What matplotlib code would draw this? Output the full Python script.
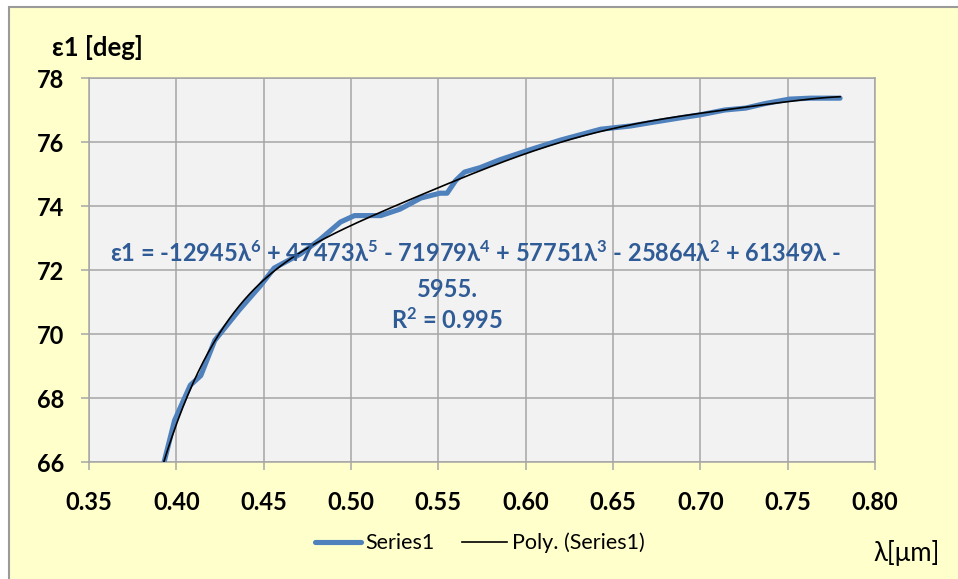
import matplotlib
matplotlib.use("Agg")
import matplotlib.pyplot as plt
from matplotlib.patches import Rectangle
import numpy as np

wavelength = [0.389, 0.393, 0.399, 0.408, 0.414, 0.422, 0.436, 0.448, 0.456, 0.471,
              0.482, 0.494, 0.502, 0.517, 0.528, 0.540, 0.551, 0.555, 0.560, 0.565,
              0.574, 0.585, 0.602, 0.620, 0.643, 0.660, 0.671, 0.688, 0.700, 0.714,
              0.726, 0.737, 0.751, 0.763, 0.780]
eps1 = [65.2, 66.0, 67.3, 68.4, 68.7, 69.8, 70.75, 71.5, 72.06, 72.5,
        72.94, 73.5, 73.7, 73.7, 73.9, 74.25, 74.4, 74.4, 74.8, 75.06,
        75.2, 75.44, 75.75, 76.06, 76.4, 76.5, 76.6, 76.75, 76.85, 77.0,
        77.06, 77.2, 77.34, 77.37, 77.37]

x_ticks = [0.35, 0.40, 0.45, 0.50, 0.55, 0.60, 0.65, 0.70, 0.75, 0.80]
y_ticks = [66, 68, 70, 72, 74, 76, 78]

eq_line1 = (r"ε1 = -12945λ$^{6}$ + 47473λ$^{5}$ - 71979λ$^{4}$ + 57751λ$^{3}$"
            r" - 25864λ$^{2}$ + 61349λ -")
eq_line2 = "5955."
eq_line3 = r"R$^{2}$ = 0.995"

FONT = ["Lato", "DejaVu Sans"]
BG = "#FFFFCC"
GRID = "#A6A6A6"
BLUE = "#4F81BD"
TXT_BLUE = "#2F5B96"

plt.rcParams["font.family"] = FONT
plt.rcParams["font.weight"] = "bold"
plt.rcParams["mathtext.fontset"] = "custom"
plt.rcParams["mathtext.rm"] = "Lato:bold"
plt.rcParams["mathtext.it"] = "Lato:bold"
plt.rcParams["mathtext.bf"] = "Lato:bold"

fig = plt.figure(figsize=(9.58, 5.79), dpi=100)
fig.patch.set_facecolor("white")
W, H = 958.0, 579.0
fig.patches.append(Rectangle((9 / W, -0.1), 1.2, 1 - 7 / H + 0.1, transform=fig.transFigure,
                             facecolor=BG, edgecolor="#9A9A9A", linewidth=1.5, zorder=-10))

ax = fig.add_axes([89 / W, 1 - 462 / H, (875 - 89) / W, (462 - 78) / H])
ax.set_facecolor("#F2F2F2")

# polynomial trendline (order 6) fitted to the series
fit = np.polynomial.Polynomial.fit(wavelength, eps1, 6)
xs = np.linspace(wavelength[0], wavelength[-1], 400)

ax.plot(wavelength, eps1, color=BLUE, lw=3.7, solid_capstyle="round",
        solid_joinstyle="round", label="Series1", zorder=3)
ax.plot(xs, fit(xs), color="black", lw=1.2, label="Poly. (Series1)", zorder=4)

ax.set_xlim(0.35, 0.80)
ax.set_ylim(66, 78)
ax.set_xticks(x_ticks)
ax.set_xticklabels([f"{v:.2f}" for v in x_ticks])
ax.set_yticks(y_ticks)
ax.grid(True, color=GRID, lw=1.1)
ax.set_axisbelow(True)
for s in ax.spines.values():
    s.set_color(GRID)
    s.set_linewidth(1.1)
ax.tick_params(axis="both", direction="out", length=6, width=1.1, color=GRID,
               labelsize=17, labelcolor="black")
ax.tick_params(axis="x", pad=15)
ax.tick_params(axis="y", pad=12)

# trendline label
fig.text(476 / W, 1 - 253 / H, eq_line1, ha="center", va="center", color=TXT_BLUE,
         fontsize=17, fontweight="bold")
fig.text(447 / W, 1 - 289 / H, eq_line2, ha="center", va="center", color=TXT_BLUE,
         fontsize=17, fontweight="bold")
fig.text(447 / W, 1 - 320 / H, eq_line3, ha="center", va="center", color=TXT_BLUE,
         fontsize=17, fontweight="bold")

fig.text(52 / W, 1 - 47 / H, "ε1 [deg]", ha="left", va="center", fontsize=18.5)
fig.text(940 / W, 1 - 553 / H, "λ[μm]", ha="right", va="center", fontsize=18.5,
         fontweight="normal")

fig.legend(loc="center", bbox_to_anchor=(480 / W, 1 - 543 / H), ncol=2, frameon=False,
           handlelength=2.1, handletextpad=0.2, columnspacing=1.3,
           prop={"weight": "normal", "size": 15.5})

fig.savefig("out.png", dpi=100, facecolor=fig.get_facecolor())
